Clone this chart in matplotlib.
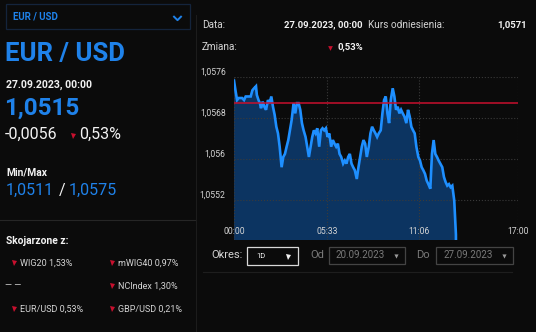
import matplotlib
matplotlib.use('Agg')
import matplotlib.pyplot as plt
from matplotlib.patches import Rectangle
from matplotlib.path import Path

plt.rcParams['font.family'] = ['Roboto', 'DejaVu Sans']

# ── intraday EUR/USD quotes (minutes after 00:00, price) ──
minutes = [0, 5, 11, 17, 29, 36, 42, 60, 66, 72, 79, 82, 88, 93, 97, 103, 109, 115,
           122, 128, 134, 140, 146, 152, 158, 164, 171, 177, 183, 189, 195, 201, 207,
           214, 220, 226, 232, 238, 244, 250, 257, 263, 269, 275, 281, 287, 293, 299,
           306, 312, 318, 324, 330, 336, 342, 349, 355, 361, 367, 373, 379, 385, 392,
           398, 404, 410, 416, 422, 428, 434, 441, 447, 453, 459, 465, 471, 477, 484,
           490, 496, 502, 508, 514, 520, 527, 533, 539, 545, 551, 557, 563, 570, 576,
           582, 588, 594, 600, 606, 612, 619, 625, 631, 637, 643, 649, 655, 662, 668,
           674, 680, 686, 692, 698, 705, 711, 717, 723, 729, 735, 741, 748, 754, 760,
           766, 772, 778, 784, 791, 797, 800]
prices = [1.05753, 1.05735, 1.05715, 1.05719, 1.05719, 1.05715, 1.05722, 1.05722,
          1.05734, 1.05738, 1.05742, 1.05725, 1.05715, 1.05709, 1.05699, 1.05712,
          1.05702, 1.05696, 1.05715, 1.05709, 1.05722, 1.05702, 1.05686, 1.05663,
          1.05650, 1.05624, 1.05584, 1.05604, 1.05610, 1.05624, 1.05637, 1.05656,
          1.05676, 1.05709, 1.05689, 1.05709, 1.05709, 1.05696, 1.05670, 1.05656,
          1.05643, 1.05624, 1.05604, 1.05624, 1.05643, 1.05656, 1.05650, 1.05660,
          1.05624, 1.05656, 1.05660, 1.05656, 1.05660, 1.05643, 1.05650, 1.05624,
          1.05637, 1.05630, 1.05624, 1.05630, 1.05610, 1.05604, 1.05591, 1.05597,
          1.05591, 1.05604, 1.05610, 1.05591, 1.05584, 1.05578, 1.05561, 1.05584,
          1.05604, 1.05624, 1.05637, 1.05630, 1.05604, 1.05624, 1.05650, 1.05663,
          1.05656, 1.05650, 1.05643, 1.05650, 1.05656, 1.05689, 1.05715, 1.05722,
          1.05689, 1.05670, 1.05715, 1.05738, 1.05722, 1.05696, 1.05702, 1.05689,
          1.05696, 1.05689, 1.05683, 1.05670, 1.05696, 1.05683, 1.05663, 1.05656,
          1.05650, 1.05624, 1.05604, 1.05597, 1.05584, 1.05578, 1.05571, 1.05558,
          1.05551, 1.05542, 1.05610, 1.05637, 1.05610, 1.05604, 1.05597, 1.05591,
          1.05584, 1.05565, 1.05555, 1.05548, 1.05551, 1.05545, 1.05548, 1.05519,
          1.05453, 1.05150]

ref_price = 1.0571
y_ticks = [1.0552, 1.0560, 1.0568, 1.0576]
y_labels = ['1,0552', '1,056', '1,0568', '1,0576']
x_ticks = [0, 333, 666, 1020]
x_labels = ['00:00', '05:33', '11:06', '17:00']

related_left = [('WIG20 1,53%', True), ('— —', False), ('EUR/USD 0,53%', True)]
related_right = ['mWIG40 0,97%', 'NCIndex 1,30%', 'GBP/USD 0,21%']

BG = '#0b0b0b'
BLUE = '#1f82ea'
LINE = '#1e8fff'
FILL = '#0c3461'
RED = '#c8102e'
WHITE = '#f2f2f2'
GREY = '#d4d4d4'
DIM = '#7a7a7a'
SEP = '#262626'

W, H = 536, 332
fig = plt.figure(figsize=(W / 100, H / 100), dpi=100, facecolor=BG)

# full-figure layer in pixel units for the panel furniture
ui = fig.add_axes([0, 0, 1, 1])
ui.set_xlim(0, W)
ui.set_ylim(H, 0)
ui.axis('off')
ui.set_facecolor(BG)


def txt(x, y, s, size, color=WHITE, weight='normal', ha='left'):
    ui.text(x, y, s, fontsize=size, color=color, fontweight=weight,
            ha=ha, va='center')


def tri(x, y, color=RED, ms=3.6):
    ui.plot([x], [y], marker='v', ms=ms, color=color, mew=0)


def box(x0, y0, x1, y1, edge, lw=0.9):
    ui.add_patch(Rectangle((x0, y0), x1 - x0, y1 - y0, fill=False,
                           edgecolor=edge, linewidth=lw))


chevron = Path([(-1, 0.6), (0, -0.4), (1, 0.6)], [Path.MOVETO, Path.LINETO, Path.LINETO])

# ── left panel ──
box(6, 4, 190, 29, '#14243c')
txt(13, 17, 'EUR / USD', 7, BLUE, 'bold')
ui.plot([177], [17.5], marker=chevron, ms=6, mfc='none', mec=BLUE, mew=1.4)

txt(5, 53.5, 'EUR / USD', 18.5, BLUE, 'bold')
txt(6, 84.5, '27.09.2023, 00:00', 7.6, WHITE, 'bold')
txt(4, 108, '1,0515', 17.5, BLUE, 'bold')
txt(5, 134, '-0,0056', 11.5, WHITE)
tri(73, 135.5)
txt(79, 134, '0,53%', 11.5, WHITE)

txt(6, 172, 'Min/Max', 7.4, WHITE, 'bold')
ui.text(6, 190, '1,0511', fontsize=11.5, color=BLUE, va='center')
ui.text(59, 190, '/', fontsize=11.5, color=WHITE, va='center')
ui.text(69, 190, '1,0575', fontsize=11.5, color=BLUE, va='center')

ui.plot([0, 196], [219.5, 219.5], color=SEP, lw=0.8)
ui.plot([196, 196], [15, H], color='#1c1c1c', lw=0.8)

txt(6, 241, 'Skojarzone z:', 7.4, WHITE, 'bold')
for i, ((name, arrow), right) in enumerate(zip(related_left, related_right)):
    y = 263 + 23 * i
    if arrow:
        tri(13.5, y)
        txt(20, y, name, 6.5, GREY)
    else:
        txt(5, y, name, 6.5, GREY)
    tri(112, y)
    txt(118, y, right, 6.5, GREY)

# ── right panel header ──
txt(202, 25, 'Data:', 7.2, GREY)
txt(362, 25, '27.09.2023, 00:00', 6.8, WHITE, 'bold', 'right')
txt(368, 25, 'Kurs odniesienia:', 7.2, GREY)
txt(527, 25, '1,0571', 6.8, WHITE, 'bold', 'right')
txt(202, 47, 'Zmiana:', 7.2, GREY)
tri(330, 47.5, ms=3.4)
txt(337, 47, '0,53%', 6.8, WHITE, 'bold')

# ── price chart ──
y_bottom = 1.05442
ax = fig.add_axes([234 / W, 1 - 240 / H, 284 / W, 163 / H])
ax.set_facecolor('none')
ax.fill_between(minutes, prices, 1.05, color=FILL, lw=0, zorder=1)
ax.plot(minutes, prices, color=LINE, lw=1.9, zorder=3, solid_joinstyle='miter')
ax.axhline(ref_price, color=RED, lw=1.1, zorder=4)
ax.set_xlim(0, 1020)
ax.set_ylim(y_bottom, 1.0576)
ax.set_xticks(x_ticks)
ax.set_xticklabels(x_labels)
ax.set_yticks(y_ticks)
ax.set_yticklabels(y_labels)
ax.grid(True, color='#3a3a3a', linestyle=':', linewidth=0.8, zorder=2)
ax.set_axisbelow(False)
for s in ax.spines.values():
    s.set_visible(False)
ax.tick_params(axis='both', length=0, colors=GREY, labelsize=6.2)
ax.tick_params(axis='x', pad=-9.5)
ax.tick_params(axis='y', pad=6)
for lbl in ax.get_yticklabels():
    lbl.set_va('bottom')
for lbl in ax.get_xticklabels():
    lbl.set_zorder(5)

# ── period selector ──
txt(211, 255.5, 'Okres:', 8, GREY)
box(247, 247, 298, 265, '#d8d8d8')
txt(256, 256, '1D', 5.4, WHITE)
tri(288, 257, WHITE, ms=3.6)
txt(310, 254.5, 'Od', 8, DIM)
box(329, 246.5, 405, 263.5, '#444444')
txt(336, 255, '20.09.2023', 7, DIM)
tri(396, 256, '#9a9a9a', ms=3)
txt(416, 254.5, 'Do', 8, DIM)
box(436, 246.5, 513, 263.5, '#444444')
txt(443, 255, '27.09.2023', 7, DIM)
tri(504, 256, '#9a9a9a', ms=3)
ui.plot([203, 512], [271.5, 271.5], color='#1e1e1e', lw=0.8)

fig.savefig('out.png', dpi=100, facecolor=BG)
